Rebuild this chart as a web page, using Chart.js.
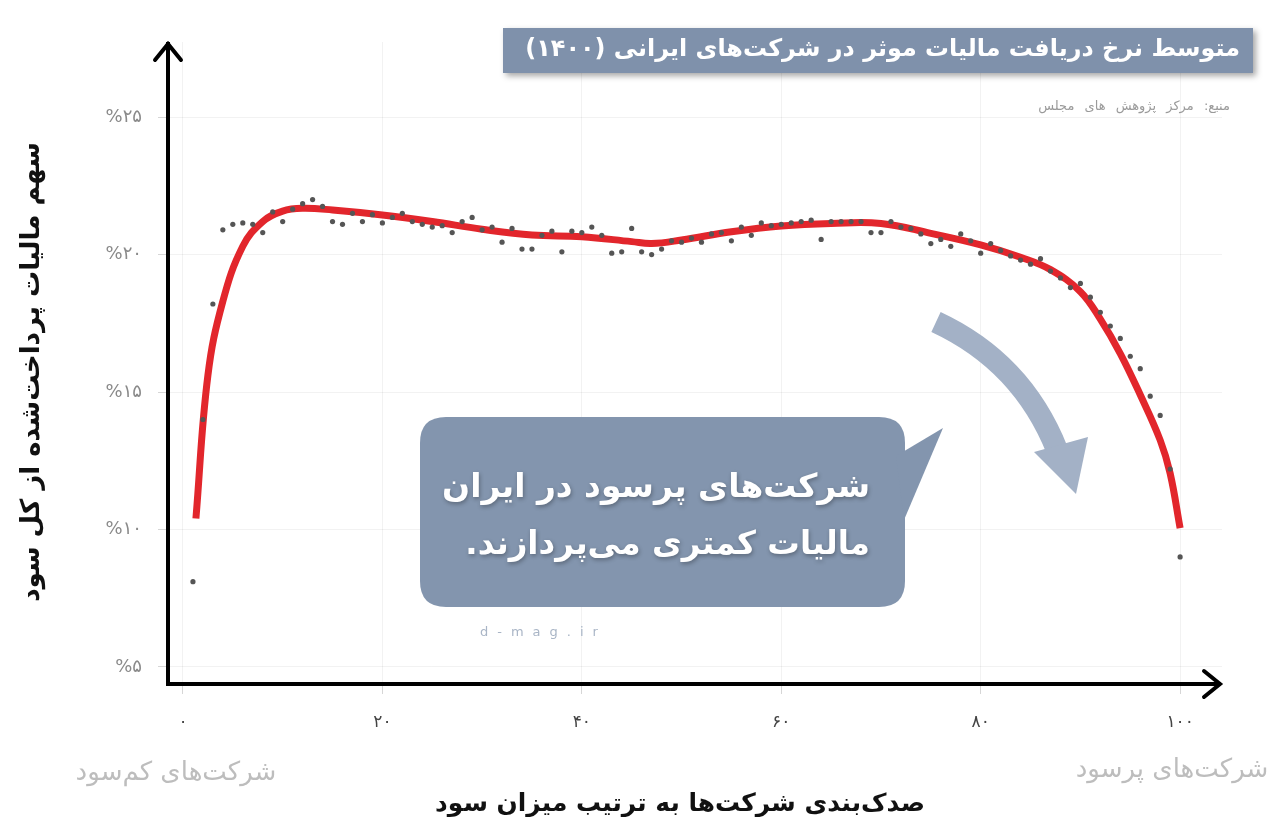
<!DOCTYPE html>
<html lang="fa">
<head>
<meta charset="utf-8">
<title>متوسط نرخ دریافت مالیات موثر</title>
<script src="https://cdn.jsdelivr.net/npm/chart.js@4.4.1/dist/chart.umd.min.js"></script>
<style>
  html, body { margin: 0; padding: 0; background: #fff; }
  canvas { display: block; }
</style>
</head>
<body>
<canvas id="taxChart" width="1275" height="827"></canvas>
<script>
// percentile of companies sorted by profit
const percentiles = [
  1, 2, 3, 4, 5, 6, 7, 8, 9, 10, 11, 12, 13, 14, 15, 16, 17, 18, 19, 20,
  21, 22, 23, 24, 25, 26, 27, 28, 29, 30, 31, 32, 33, 34, 35, 36, 37, 38, 39, 40,
  41, 42, 43, 44, 45, 46, 47, 48, 49, 50, 51, 52, 53, 54, 55, 56, 57, 58, 59, 60,
  61, 62, 63, 64, 65, 66, 67, 68, 69, 70, 71, 72, 73, 74, 75, 76, 77, 78, 79, 80,
  81, 82, 83, 84, 85, 86, 87, 88, 89, 90, 91, 92, 93, 94, 95, 96, 97, 98, 99, 100
];
// effective tax share (%) per percentile
const taxShare = [
  8.1, 14.0, 18.2, 20.9, 21.1, 21.15, 21.1, 20.8, 21.55, 21.2,
  21.65, 21.85, 22.0, 21.75, 21.2, 21.1, 21.5, 21.2, 21.45, 21.15,
  21.35, 21.5, 21.2, 21.1, 21.0, 21.05, 20.8, 21.2, 21.35, 20.9,
  21.0, 20.45, 20.95, 20.2, 20.2, 20.7, 20.85, 20.1, 20.85, 20.8,
  21.0, 20.7, 20.05, 20.1, 20.95, 20.1, 20.0, 20.2, 20.5, 20.45,
  20.6, 20.45, 20.75, 20.8, 20.5, 21.0, 20.7, 21.15, 21.05, 21.1,
  21.15, 21.2, 21.25, 20.55, 21.2, 21.2, 21.2, 21.2, 20.8, 20.8,
  21.2, 21.0, 20.95, 20.75, 20.4, 20.55, 20.3, 20.75, 20.5, 20.05,
  20.4, 20.15, 19.95, 19.8, 19.65, 19.85, 19.4, 19.15, 18.8, 18.95,
  18.45, 17.9, 17.4, 16.95, 16.3, 15.85, 14.85, 14.15, 12.2, 9.0
];
// smoothed trend (red curve)
const trendX = [1.3, 2.5, 4, 6, 8, 10, 12, 15, 20, 25, 30, 35, 40, 45, 47, 50, 55, 60, 65, 70, 75, 80, 84, 87, 90, 92, 94, 96, 98, 99, 100];
const trendY = [10.4, 15.6, 18.3, 20.3, 21.2, 21.58, 21.68, 21.62, 21.44, 21.2, 20.92, 20.71, 20.65, 20.47, 20.4, 20.53, 20.83, 21.04, 21.13, 21.13, 20.77, 20.35, 19.9, 19.45, 18.65, 17.65, 16.4, 14.9, 13.25, 12.04, 10.05];

const xTicks = [0, 20, 40, 60, 80, 100];
const xTickLabels = ['۰', '۲۰', '۴۰', '۶۰', '۸۰', '۱۰۰'];
const yTicks = [5, 10, 15, 20, 25];
const yTickLabels = ['%۵', '%۱۰', '%۱۵', '%۲۰', '%۲۵'];

const FONT = "'DejaVu Sans', 'Noto Sans', sans-serif";

function fitText(ctx, text, x, y, width, weight, maxSize, color, align) {
  ctx.font = `${weight} ${maxSize}px ${FONT}`;
  const w = ctx.measureText(text).width;
  const size = Math.min(maxSize, maxSize * width / w);
  ctx.font = `${weight} ${size}px ${FONT}`;
  ctx.fillStyle = color;
  ctx.textAlign = align;
  ctx.textBaseline = 'middle';
  ctx.fillText(text, x, y);
}

function roundRect(ctx, x, y, w, h, r) {
  ctx.beginPath();
  ctx.moveTo(x + r, y);
  ctx.lineTo(x + w - r, y);
  ctx.quadraticCurveTo(x + w, y, x + w, y + r);
  ctx.lineTo(x + w, y + h - r);
  ctx.quadraticCurveTo(x + w, y + h, x + w - r, y + h);
  ctx.lineTo(x + r, y + h);
  ctx.quadraticCurveTo(x, y + h, x, y + h - r);
  ctx.lineTo(x, y + r);
  ctx.quadraticCurveTo(x, y, x + r, y);
  ctx.closePath();
}

const decor = {
  id: 'decor',
  beforeDraw(chart) {
    const ctx = chart.ctx;
    ctx.save();
    ctx.fillStyle = '#fff';
    ctx.fillRect(0, 0, chart.width, chart.height);
    ctx.restore();
  },
  afterDraw(chart) {
    const ctx = chart.ctx;
    const { left, right, top, bottom } = chart.chartArea;
    ctx.save();
    ctx.direction = 'rtl';

    // title box
    ctx.save();
    ctx.shadowColor = 'rgba(0,0,0,0.35)';
    ctx.shadowBlur = 6;
    ctx.shadowOffsetX = 3;
    ctx.shadowOffsetY = 3;
    ctx.fillStyle = '#7f91ab';
    ctx.fillRect(503, 28, 750, 45);
    ctx.restore();
    fitText(ctx, 'متوسط نرخ دریافت مالیات موثر در شرکت‌های ایرانی (۱۴۰۰)', 1240, 50, 715, 'bold', 24, '#fff', 'right');

    // source
    ctx.save();
    ctx.letterSpacing = '6px';
    fitText(ctx, 'منبع: مرکز پژوهش های مجلس', 1230, 107, 285, 'normal', 13, '#9a9a9a', 'right');
    ctx.restore();

    // callout bubble
    ctx.fillStyle = '#8395ae';
    roundRect(ctx, 420, 417, 485, 190, 26);
    ctx.fill();
    ctx.beginPath();
    ctx.moveTo(896, 456);
    ctx.lineTo(943, 428);
    ctx.lineTo(904, 520);
    ctx.closePath();
    ctx.fill();
    ctx.save();
    ctx.shadowColor = 'rgba(0,0,0,0.3)';
    ctx.shadowBlur = 4;
    ctx.shadowOffsetX = 1;
    ctx.shadowOffsetY = 2;
    fitText(ctx, 'شرکت‌های پرسود در ایران', 870, 488, 428, 'bold', 38, '#fff', 'right');
    fitText(ctx, 'مالیات کمتری می‌پردازند.', 870, 546, 405, 'bold', 38, '#fff', 'right');
    ctx.restore();

    // watermark
    ctx.save();
    ctx.direction = 'ltr';
    ctx.letterSpacing = '9px';
    fitText(ctx, 'd-mag.ir', 480, 633, 200, 'normal', 13, '#a9b5c6', 'left');
    ctx.restore();

    // curved arrow
    ctx.strokeStyle = '#a3b1c6';
    ctx.fillStyle = '#a3b1c6';
    ctx.lineWidth = 22;
    ctx.lineCap = 'butt';
    ctx.beginPath();
    ctx.moveTo(936, 322);
    ctx.quadraticCurveTo(1022, 362, 1057, 450);
    ctx.stroke();
    ctx.beginPath();
    ctx.moveTo(1034, 452);
    ctx.lineTo(1088, 437);
    ctx.lineTo(1076, 494);
    ctx.closePath();
    ctx.fill();

    // axes with arrows
    ctx.strokeStyle = '#000';
    ctx.lineWidth = 4;
    ctx.lineCap = 'square';
    ctx.lineJoin = 'miter';
    ctx.beginPath();
    ctx.moveTo(left, bottom);
    ctx.lineTo(left, top + 2);
    ctx.moveTo(left, bottom);
    ctx.lineTo(right - 3, bottom);
    ctx.stroke();
    ctx.lineCap = 'round';
    ctx.beginPath();
    ctx.moveTo(left - 13, top + 18);
    ctx.lineTo(left, top + 2);
    ctx.lineTo(left + 13, top + 18);
    ctx.moveTo(right - 18, bottom - 13);
    ctx.lineTo(right - 2, bottom);
    ctx.lineTo(right - 18, bottom + 13);
    ctx.stroke();

    // axis titles
    fitText(ctx, 'صدک‌بندی شرکت‌ها به ترتیب میزان سود', 680, 805, 490, 'bold', 28, '#111', 'center');
    ctx.save();
    ctx.translate(32, 372);
    ctx.rotate(-Math.PI / 2);
    fitText(ctx, 'سهم مالیات پرداخت‌شده از کل سود', 0, 0, 460, 'bold', 30, '#111', 'center');
    ctx.restore();

    // side notes
    fitText(ctx, 'شرکت‌های کم‌سود', 176, 773, 212, 'normal', 26, '#bdbdbd', 'center');
    fitText(ctx, 'شرکت‌های پرسود', 1172, 770, 195, 'normal', 26, '#bdbdbd', 'center');

    ctx.restore();
  }
};

const ctx = document.getElementById('taxChart').getContext('2d');
Chart.defaults.font.family = FONT;

new Chart(ctx, {
  type: 'scatter',
  data: {
    datasets: [
      {
        label: 'percentiles',
        data: percentiles.map((p, i) => ({ x: p, y: taxShare[i] })),
        backgroundColor: '#555',
        borderWidth: 0,
        pointRadius: 2.6,
        order: 0,
      },
      {
        type: 'line',
        label: 'trend',
        data: trendX.map((p, i) => ({ x: p, y: trendY[i] })),
        borderColor: '#e2262c',
        borderWidth: 7,
        pointRadius: 0,
        fill: false,
        tension: 0.4,
        order: 1,
      },
    ],
  },
  options: {
    responsive: false,
    animation: false,
    layout: { padding: { top: 42, right: 53, left: 0, bottom: 0 } },
    plugins: { legend: { display: false }, tooltip: { enabled: false } },
    scales: {
      x: {
        type: 'linear',
        min: -1.5,
        max: 104.2,
        afterBuildTicks: (s) => { s.ticks = xTicks.map((v) => ({ value: v })); },
        afterFit: (s) => { s.height = 143; },
        ticks: {
          callback: (v) => xTickLabels[xTicks.indexOf(v)],
          color: '#444',
          font: { size: 17 },
          padding: 18,
          maxRotation: 0,
        },
        grid: { color: 'rgba(0,0,0,0.05)', tickColor: '#d6d6d6', tickLength: 10 },
        border: { display: false },
      },
      y: {
        min: 4.38,
        max: 27.73,
        afterBuildTicks: (s) => { s.ticks = yTicks.map((v) => ({ value: v })); },
        afterFit: (s) => { s.width = 168; },
        ticks: {
          callback: (v) => yTickLabels[yTicks.indexOf(v)],
          color: '#8a8a8a',
          font: { size: 18 },
          padding: 16,
        },
        grid: { color: 'rgba(0,0,0,0.05)', tickColor: '#d6d6d6', tickLength: 10 },
        border: { display: false },
      },
    },
  },
  plugins: [decor],
});
</script>
</body>
</html>
